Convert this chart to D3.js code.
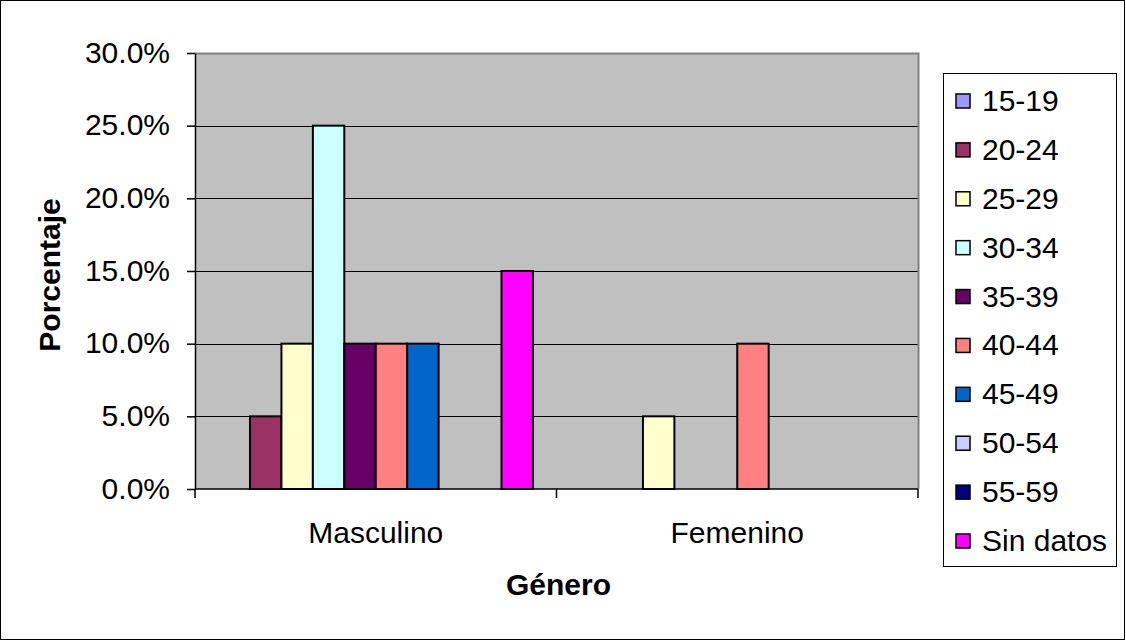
<!DOCTYPE html>
<html><head><meta charset="utf-8">
<script src="https://cdn.jsdelivr.net/npm/d3@7"></script>
<style>body{margin:0;background:#fff}svg{display:block;font-family:"Liberation Sans",Arial,sans-serif}</style>
</head><body>
<svg id="c" width="1126" height="641"></svg>
<script>
const categories = ["Masculino", "Femenino"];
const seriesNames = ["15-19","20-24","25-29","30-34","35-39","40-44","45-49","50-54","55-59","Sin datos"];
const masculino = [0, 0.05, 0.10, 0.25, 0.10, 0.10, 0.10, 0, 0, 0.15];
const femenino  = [0, 0, 0.05, 0, 0, 0.10, 0, 0, 0, 0];
const colors = ["#9999FF","#993366","#FFFFCC","#CCFFFF","#660066","#FF8080","#0066CC","#CCCCFF","#000080","#FF00FF"];
const yTicks = [0, 0.05, 0.10, 0.15, 0.20, 0.25, 0.30];

const values = {Masculino: masculino, Femenino: femenino};
const FONT = "Liberation Sans, Arial, sans-serif";
const svg = d3.select("#c");
svg.append("rect").attr("x",0.5).attr("y",0.5).attr("width",1124).attr("height",639)
  .attr("fill","#fff").attr("stroke","#000");

const L = 195, R = 918, T = 53, B = 489;
const x = d3.scaleBand().domain(categories).range([L, R]).paddingInner(0).paddingOuter(0);
const bw = x.bandwidth();
const gap = 1.5;
const barW = bw / (seriesNames.length + gap);
const xs = d3.scaleBand().domain(seriesNames).range([barW*gap/2, barW*gap/2 + barW*seriesNames.length]).padding(0);
const y = d3.scaleLinear().domain([0, 0.30]).range([B, T]);

svg.append("rect").attr("x",L).attr("y",T).attr("width",R-L).attr("height",B-T).attr("fill","#C0C0C0");
// gridlines
svg.append("g").selectAll("line").data(yTicks.filter(d=>d>0 && d<0.30)).join("line")
  .attr("x1",L).attr("x2",R).attr("y1",d=>Math.round(y(d))+0.5).attr("y2",d=>Math.round(y(d))+0.5)
  .attr("stroke","#000").attr("stroke-width",1);
// plot border top/right
svg.append("path").attr("d",`M${L},${T+0.5}H${R+0.5}V${B}`).attr("fill","none").attr("stroke","#808080").attr("stroke-width",2);

// bars
const g = svg.append("g");
categories.forEach(c=>{
  g.append("g").selectAll("rect").data(seriesNames.map((s,i)=>({s, v: values[c][i], col: colors[i]})).filter(d=>d.v>0)).join("rect")
    .attr("x", d=> x(c) + xs(d.s))
    .attr("y", d=> y(d.v))
    .attr("width", xs.bandwidth())
    .attr("height", d=> B - y(d.v))
    .attr("fill", d=>d.col).attr("stroke","#000").attr("stroke-width",2);
});

// y axis
const yAxis = d3.axisLeft(y).tickValues(yTicks).tickFormat(d3.format(".1%")).tickSizeOuter(0).tickSizeInner(8).tickPadding(17);
const ya = svg.append("g").attr("transform",`translate(${L},0)`).call(yAxis);
ya.selectAll("text").attr("font-size",30).attr("font-family",FONT).attr("fill","#000").attr("dy","0.31em");
ya.selectAll("line,path").attr("stroke","#000").attr("stroke-width",1.5);

// x axis
const xAxis = d3.axisBottom(x).tickSize(0).tickPadding(0);
const xa = svg.append("g").attr("transform",`translate(0,${B})`).call(xAxis);
xa.select("path").remove();
xa.selectAll("text").attr("font-size",30).attr("font-family",FONT).attr("fill","#000").attr("dy",null).attr("y",54);
svg.append("line").attr("x1",L).attr("x2",R).attr("y1",B).attr("y2",B).attr("stroke","#000").attr("stroke-width",1.5);
const bounds = [L, ...categories.map(c=>x(c)+bw)];
svg.append("g").selectAll("line").data(bounds).join("line")
  .attr("x1",d=>d).attr("x2",d=>d).attr("y1",B).attr("y2",B+9).attr("stroke","#000").attr("stroke-width",1.5);

// axis titles
svg.append("text").attr("x",(L+R)/2+2).attr("y",595).attr("text-anchor","middle")
  .attr("font-size",30).attr("font-weight","bold").text("Género");
svg.append("text").attr("transform",`translate(60,${(T+B)/2+4}) rotate(-90)`).attr("text-anchor","middle")
  .attr("font-size",30).attr("font-weight","bold").text("Porcentaje");

// legend
const lg = svg.append("g");
lg.append("rect").attr("x",943.5).attr("y",73.5).attr("width",173).attr("height",493).attr("fill","#fff").attr("stroke","#000");
const ly = d3.scalePoint().domain(seriesNames).range([101, 541]);
const items = lg.selectAll("g").data(seriesNames).join("g").attr("transform",d=>`translate(0,${ly(d)})`);
items.append("rect").attr("x",956).attr("y",-7).attr("width",14).attr("height",14)
  .attr("fill",(d,i)=>colors[i]).attr("stroke","#000").attr("stroke-width",1.5);
items.append("text").attr("x",982).attr("y",10).attr("font-size",30).text(d=>d);
</script>
</body></html>
